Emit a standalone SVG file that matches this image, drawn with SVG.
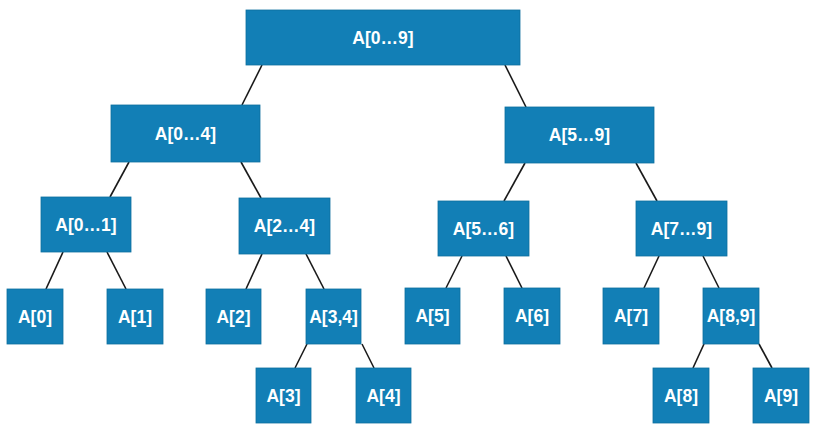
<svg xmlns="http://www.w3.org/2000/svg" width="818" height="433" viewBox="0 0 818 433">
<style>
.n rect{fill:#127fb6;stroke:#0d6f9f;stroke-width:0.8}
.n text{fill:#ffffff;font-family:"Liberation Sans",Arial,sans-serif;font-weight:bold;font-size:17.5px;text-anchor:middle;dominant-baseline:central}
#edges line{stroke:#1a1a1a;stroke-width:1.6}
</style>
<rect width="818" height="433" fill="#ffffff"/>
<g id="edges">
<line x1="262" y1="65" x2="242" y2="105"/>
<line x1="505" y1="65" x2="526" y2="107"/>
<line x1="129" y1="162" x2="110" y2="197"/>
<line x1="241" y1="162" x2="261" y2="198"/>
<line x1="525" y1="163" x2="504" y2="201"/>
<line x1="636" y1="163" x2="657" y2="201"/>
<line x1="63" y1="252" x2="46" y2="289"/>
<line x1="107" y1="252" x2="126" y2="289"/>
<line x1="262" y1="254" x2="246" y2="289"/>
<line x1="306" y1="254" x2="324" y2="289"/>
<line x1="307" y1="344" x2="295" y2="368"/>
<line x1="362" y1="344" x2="374" y2="368"/>
<line x1="462" y1="256" x2="446" y2="288"/>
<line x1="506" y1="256" x2="522" y2="288"/>
<line x1="659" y1="256" x2="644" y2="288"/>
<line x1="703" y1="256" x2="719" y2="288"/>
<line x1="704" y1="344" x2="693" y2="368"/>
<line x1="759" y1="344" x2="772" y2="368"/>
</g>
<g id="n09" class="n"><rect x="246" y="10" width="274" height="55"/><text x="383" y="38">A[0…9]</text></g>
<g id="n04" class="n"><rect x="111" y="105" width="149" height="57"/><text x="185.5" y="133.5">A[0…4]</text></g>
<g id="n59" class="n"><rect x="505" y="107" width="149" height="56"/><text x="579.5" y="135">A[5…9]</text></g>
<g id="n01" class="n"><rect x="41" y="197" width="90" height="55"/><text x="86" y="224.5">A[0…1]</text></g>
<g id="n24" class="n"><rect x="239" y="198" width="91" height="56"/><text x="284.5" y="226">A[2…4]</text></g>
<g id="n56" class="n"><rect x="438" y="201" width="91" height="55"/><text x="483.5" y="228.5">A[5…6]</text></g>
<g id="n79" class="n"><rect x="636" y="201" width="91" height="55"/><text x="681.5" y="228.5">A[7…9]</text></g>
<g id="n0" class="n"><rect x="7" y="289" width="56" height="55"/><text x="35" y="316.5">A[0]</text></g>
<g id="n1" class="n"><rect x="107" y="289" width="56" height="55"/><text x="135" y="316.5">A[1]</text></g>
<g id="n2" class="n"><rect x="206" y="289" width="55" height="55"/><text x="233.5" y="316.5">A[2]</text></g>
<g id="n34" class="n"><rect x="306" y="289" width="55" height="55"/><text x="333.5" y="316.5">A[3,4]</text></g>
<g id="n5" class="n"><rect x="405" y="288" width="55" height="56"/><text x="432.5" y="316">A[5]</text></g>
<g id="n6" class="n"><rect x="504" y="288" width="56" height="56"/><text x="532" y="316">A[6]</text></g>
<g id="n7" class="n"><rect x="603" y="288" width="56" height="56"/><text x="631" y="316">A[7]</text></g>
<g id="n89" class="n"><rect x="703" y="288" width="56" height="56"/><text x="731" y="316">A[8,9]</text></g>
<g id="n3" class="n"><rect x="256" y="368" width="55" height="55"/><text x="283.5" y="395.5">A[3]</text></g>
<g id="n4" class="n"><rect x="356" y="368" width="55" height="55"/><text x="383.5" y="395.5">A[4]</text></g>
<g id="n8" class="n"><rect x="653" y="368" width="56" height="55"/><text x="681" y="395.5">A[8]</text></g>
<g id="n9" class="n"><rect x="753" y="368" width="56" height="55"/><text x="781" y="395.5">A[9]</text></g>
</svg>
